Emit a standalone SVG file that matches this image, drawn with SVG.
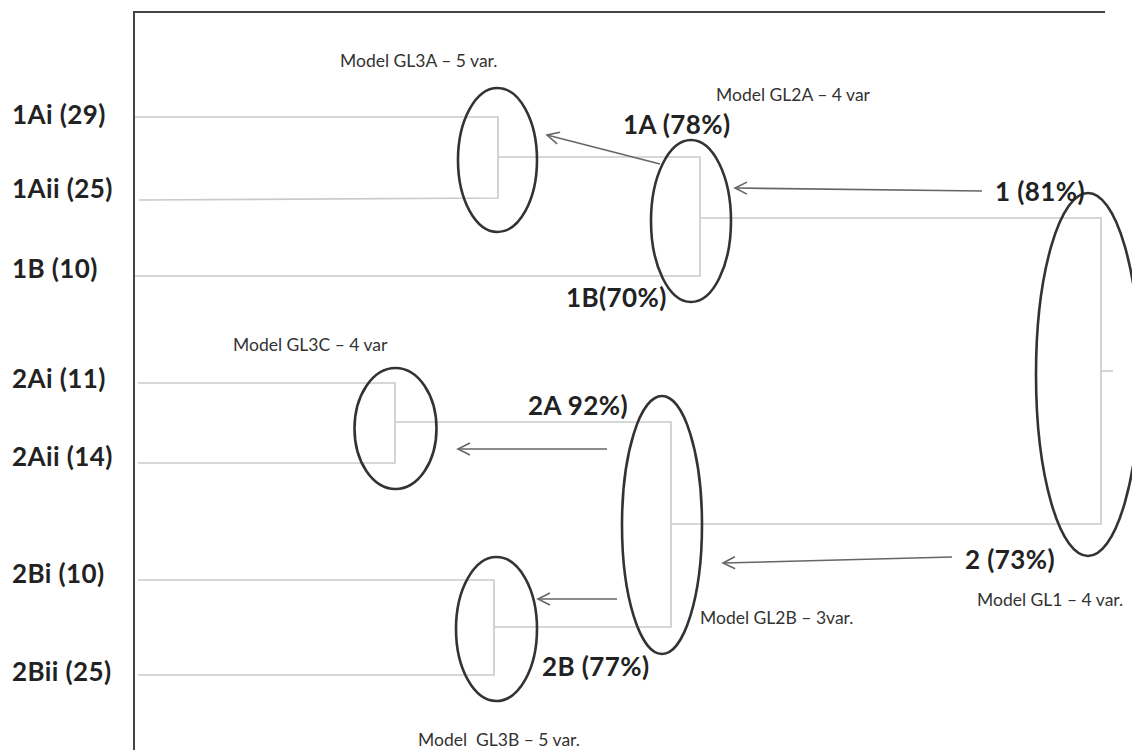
<svg xmlns="http://www.w3.org/2000/svg" width="1132" height="750" viewBox="0 0 1132 750">
<defs>
<marker id="chev" markerUnits="userSpaceOnUse" markerWidth="16" markerHeight="16" refX="13" refY="7" orient="auto">
<path d="M1,1 L13,7 L1,13" fill="none" stroke="#666" stroke-width="1.6"/>
</marker>
<style>
.frame{stroke:#444;stroke-width:2;fill:none}
.tree{stroke:#cacaca;stroke-width:1.6;fill:none}
.oval{stroke:#333;stroke-width:2.6;fill:none}
.arr{stroke:#666;stroke-width:1.6;fill:none;marker-end:url(#chev)}
.big{font-family:Lato,"Open Sans",sans-serif;font-weight:bold;font-size:26px;letter-spacing:0.4px;fill:#222}
.sm{font-family:Lato,"Open Sans",sans-serif;font-size:17.5px;fill:#333;white-space:pre}
</style>
</defs>
<rect width="1132" height="750" fill="#fff"/>
<g id="frame">
<path class="frame" d="M134,750 L134,12 L1105,12"/>
</g>
<g id="connectors">
<path class="tree" d="M135,117 L498,117 L498,198 L139,200"/>
<path class="tree" d="M498,157 L700,157 L700,276 L135,276"/>
<path class="tree" d="M700,218 L1101,218 L1101,524 L671,524"/>
<path class="tree" d="M1101,371 L1113,371"/>
<path class="tree" d="M138,383 L395,383 L395,463 L138,463"/>
<path class="tree" d="M395,422 L671,422 L671,627 L494,627"/>
<path class="tree" d="M138,580 L494,580 L494,675 L138,675"/>
<line class="arr" x1="660" y1="164" x2="547" y2="135"/>
<line class="arr" x1="982" y1="191" x2="735" y2="188"/>
<line class="arr" x1="607" y1="449" x2="458" y2="449"/>
<line class="arr" x1="617" y1="599" x2="538" y2="599"/>
<line class="arr" x1="952" y1="557" x2="723" y2="563"/>
</g>
<g id="leaves">
<text class="big" x="12" y="124">1Ai (29)</text>
<text class="big" x="12" y="198">1Aii (25)</text>
<text class="big" x="12" y="278">1B (10)</text>
<text class="big" x="12" y="388">2Ai (11)</text>
<text class="big" x="12" y="466">2Aii (14)</text>
<text class="big" x="12" y="583">2Bi (10)</text>
<text class="big" x="12" y="681">2Bii (25)</text>
</g>
<g id="GL3A">
<ellipse class="oval" cx="497.5" cy="160" rx="39.5" ry="72"/>
<text class="sm" x="340" y="67">Model GL3A – 5 var.</text>
</g>
<g id="GL2A">
<ellipse class="oval" cx="691" cy="221" rx="40" ry="81"/>
<text class="sm" x="716" y="101">Model GL2A – 4 var</text>
<text class="big" x="623" y="134">1A (78%)</text>
<text class="big" x="566" y="307">1B(70%)</text>
</g>
<g id="GL1">
<ellipse class="oval" cx="1088" cy="374.5" rx="52" ry="181.5"/>
<text class="big" x="995" y="201">1 (81%)</text>
<text class="big" x="965" y="569">2 (73%)</text>
<text class="sm" x="977" y="606">Model GL1 – 4 var.</text>
</g>
<g id="GL3C">
<ellipse class="oval" cx="395.5" cy="428.5" rx="41" ry="60.5"/>
<text class="sm" x="233" y="351">Model GL3C – 4 var</text>
</g>
<g id="GL2B">
<ellipse class="oval" cx="662" cy="525" rx="40" ry="129"/>
<text class="big" x="528" y="415">2A 92%)</text>
<text class="sm" x="700" y="624">Model GL2B – 3var.</text>
</g>
<g id="GL3B">
<ellipse class="oval" cx="496.5" cy="629" rx="40.5" ry="72"/>
<text class="big" x="542" y="676">2B (77%)</text>
<text class="sm" x="418" y="746">Model  GL3B – 5 var.</text>
</g>
</svg>
